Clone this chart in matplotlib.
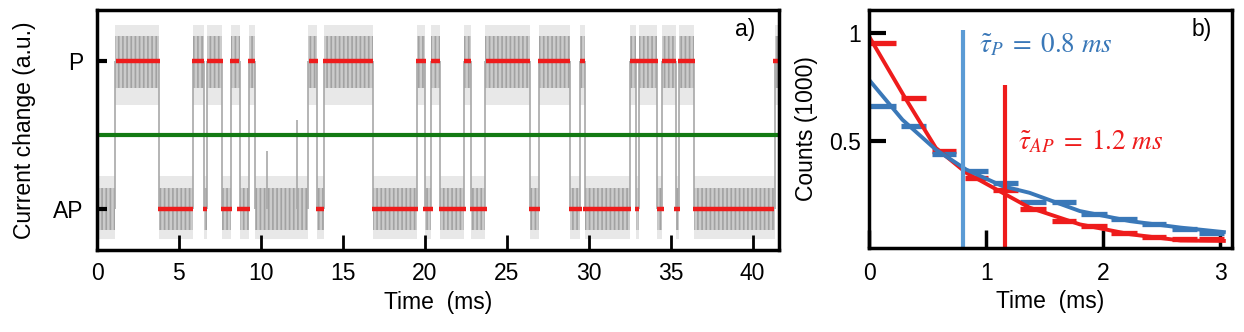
import matplotlib
matplotlib.use("Agg")
import matplotlib.pyplot as plt

plt.rcParams['font.family'] = ['Liberation Sans', 'DejaVu Sans']
plt.rcParams['mathtext.fontset'] = 'stix'
plt.rcParams['hatch.linewidth'] = 1.2

# --- panel a: telegraph trace (AP = 0, P = 1) ---
state_edges = [0, 1.1, 3.8, 5.85, 6.55, 6.7, 7.6, 8.2, 8.7, 9.3, 9.65, 12.9, 13.45,
               13.85, 16.85, 19.5, 20.0, 20.4, 20.9, 22.4, 22.8, 23.7, 26.4, 26.95,
               28.85, 29.5, 29.75, 32.55, 32.9, 33.05, 34.2, 34.5, 35.3, 35.5, 36.45,
               41.4, 41.6]
state_vals = [0, 1, 0, 1, 0, 1, 0, 1, 0, 1, 0, 1, 0, 1, 0, 1, 0, 1, 0, 1, 0, 1, 0,
              1, 0, 1, 0, 1, 0, 1, 0, 1, 0, 1, 0, 1]
# noise envelope around each level (inner dense band, outer spikes)
p_inner = (0.17, -0.18)
p_outer = (0.24, -0.3)
ap_inner = (0.14, -0.14)
ap_outer = (0.22, -0.2)
spike_t = [10.35, 12.2]
spike_top = [0.39, 0.6]

p_red_start = [1.16, 5.77, 6.69, 8.11, 9.19, 12.95, 13.76, 19.49, 20.37, 22.4, 23.72,
               26.91, 29.49, 32.5, 34.45, 35.45, 41.24]
p_red_end = [3.84, 6.52, 7.66, 8.68, 9.63, 13.49, 16.84, 20.06, 20.91, 22.84, 26.44,
             28.88, 29.79, 34.23, 35.3, 36.46, 41.6]
ap_red_start = [3.74, 6.44, 7.56, 8.56, 13.39, 16.79, 19.9, 20.85, 22.74, 26.36, 28.8,
                29.65, 32.84, 34.16, 35.2, 36.36]
ap_red_end = [5.87, 6.74, 8.23, 9.33, 13.86, 19.6, 20.5, 22.5, 23.8, 27.01, 29.6,
              32.6, 33.1, 34.57, 35.55, 41.34]
threshold = 0.5

# --- panel b: dwell time histograms and fits ---
bin_left = [0, 0.27, 0.54, 0.82, 1.06, 1.29, 1.56, 1.81, 2.07, 2.33, 2.59, 2.82]
bin_right = [0.23, 0.49, 0.74, 1.02, 1.27, 1.51, 1.77, 2.03, 2.29, 2.54, 2.80, 3.03]
counts_ap = [0.954, 0.698, 0.45, 0.327, 0.272, 0.183, 0.125, 0.102, 0.071, 0.053, 0.044, 0.04]
counts_p = [0.662, 0.57, 0.438, 0.357, 0.304, 0.212, 0.216, 0.16, 0.136, 0.11, 0.087, 0.071]
fit_t_ap = [0.0, 0.3, 0.57, 0.83, 1.14, 1.37, 1.8, 2.23, 2.66, 3.03]
fit_ap = [0.985, 0.706, 0.466, 0.35, 0.257, 0.188, 0.11, 0.064, 0.035, 0.033]
fit_t_p = [0.0, 0.285, 0.57, 0.83, 1.14, 1.37, 1.8, 2.23, 2.66, 3.03]
fit_p = [0.783, 0.597, 0.458, 0.365, 0.288, 0.257, 0.172, 0.125, 0.095, 0.074]
tau_p = 0.8
tau_ap = 1.157

fig = plt.figure(figsize=(12.44, 3.32), dpi=100)
ax1 = fig.add_axes([0.078, 0.247, 0.548, 0.723])
ax2 = fig.add_axes([0.6986, 0.253, 0.2918, 0.717])

red = '#ee1c1c'
gray = '#a8a8a8'

# gray trace: noise envelope bands plus the switching transitions
for i, v in enumerate(state_vals):
    t0, t1 = state_edges[i], state_edges[i + 1]
    inner = p_inner if v == 1 else ap_inner
    outer = p_outer if v == 1 else ap_outer
    ax1.fill_between([t0, t1], v + outer[1], v + outer[0], color='#e8e8e8', lw=0, zorder=1)
    ax1.fill_between([t0, t1], v + inner[1], v + inner[0], facecolor='#cbcbcb', lw=0,
                     hatch='||||', edgecolor='#a2a2a2', zorder=1)
ax1.vlines(state_edges[1:-1], 0, 1, color=gray, lw=1.2, zorder=1)
ax1.vlines(spike_t, 0, spike_top, color=gray, lw=1.2, zorder=1)

ax1.axhline(threshold, color='#137a13', lw=3)
ax1.hlines([1] * len(p_red_start), p_red_start, p_red_end, color=red, lw=3.2)
ax1.hlines([0] * len(ap_red_start), ap_red_start, ap_red_end, color=red, lw=3.2)

ax1.set_xlim(0, 41.6)
ax1.set_ylim(-0.277, 1.345)
ax1.set_xticks([0, 5, 10, 15, 20, 25, 30, 35, 40])
ax1.set_yticks([0, 1])
ax1.set_yticklabels(['AP', 'P'])
ax1.tick_params(axis='x', direction='in', length=11, width=2, labelsize=16.5, pad=9)
ax1.tick_params(axis='y', direction='in', length=7, width=3, labelsize=16.5, pad=10)
ax1.set_xlabel('Time  (ms)', fontsize=16.5, labelpad=4)
ax1.set_ylabel('Current change (a.u.)', fontsize=16.5)
ax1.yaxis.set_label_coords(-0.09, 0.5)
ax1.text(0.95, 0.917, 'a)', transform=ax1.transAxes, fontsize=16.5, ha='center', va='center')

# histograms
ax2.hlines(counts_ap, bin_left, bin_right, color=red, lw=3.8)
ax2.hlines(counts_p, bin_left, bin_right, color='#3a78b8', lw=3.8)
ax2.plot(fit_t_ap, fit_ap, color=red, lw=2.8)
ax2.plot(fit_t_p, fit_p, color='#3a78b8', lw=2.8)
ax2.vlines(tau_p, 0, 1.015, color='#5b9bd5', lw=3)
ax2.vlines(tau_ap, 0, 0.76, color=red, lw=3)
ax2.text(0.943, 0.946, r'$\tilde{\tau}_P\;=\;0.8\ ms$', color='#3a78b8', fontsize=19.5,
         ha='left', va='center')
ax2.text(1.27, 0.497, r'$\tilde{\tau}_{AP}\;=\;1.2\ ms$', color=red, fontsize=19.5,
         ha='left', va='center')

ax2.set_xlim(0, 3.1)
ax2.set_ylim(0, 1.108)
ax2.set_xticks([0, 1, 2, 3])
ax2.set_yticks([0.5, 1])
ax2.set_yticklabels(['0.5', '1'])
ax2.tick_params(axis='x', direction='in', length=13, width=2.5, labelsize=16.5, pad=10)
ax2.tick_params(axis='y', direction='in', length=12, width=3, labelsize=16.5, pad=6)
ax2.set_xlabel('Time  (ms)', fontsize=16.5, labelpad=4)
ax2.set_ylabel('Counts (1000)', fontsize=16.5)
ax2.yaxis.set_label_coords(-0.142, 0.5)
ax2.text(0.917, 0.918, 'b)', transform=ax2.transAxes, fontsize=16.5, ha='center', va='center')

for ax in (ax1, ax2):
    for s in ax.spines.values():
        s.set_linewidth(2.5)

fig.savefig('out.png', dpi=100)
